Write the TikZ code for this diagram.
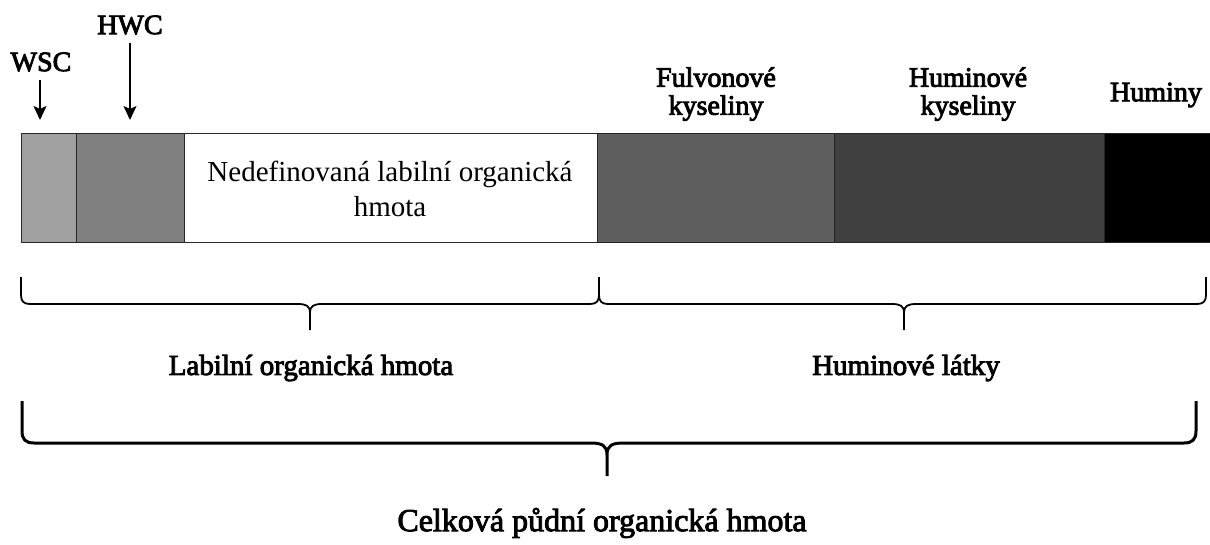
\documentclass[tikz,border=0pt]{standalone}
\usepackage{fontspec}
\setmainfont{Liberation Serif}
\newcommand{\heavy}[1]{\special{pdf:literal direct 2 Tr 0.9 w}#1\special{pdf:literal direct 0 Tr}}
\usetikzlibrary{arrows.meta}
\tikzset{
  seg/.style={draw=black!85, line width=1.4pt, inner sep=0pt, anchor=north west, minimum height=109pt},
  toplab/.style={font=\fontsize{28}{28}\selectfont, align=center, inner sep=0pt},
  botlab/.style={font=\fontsize{29}{30}\selectfont, inner sep=0pt},
  biglab/.style={font=\fontsize{32}{34}\selectfont, inner sep=0pt},
  midtext/.style={font=\fontsize{29}{35}\selectfont, align=center, inner sep=0pt},
  ptr/.style={line width=1.5pt, -{Stealth[width=13pt,length=14pt,inset=3pt]}},
  brc/.style={line width=1.8pt, line join=round},
  bigbrc/.style={line width=3pt, line join=round},
}
% #1 left x, #2 right x, #3 mid x, #4 top y, #5 horizontal y, #6 tip y, #7 corner radius
\newcommand{\mybrace}[7]{%
  (#1,#4) -- (#1,#5-#7) .. controls (#1,#5-#7*0.3) and (#1+#7*0.3,#5) .. (#1+#7,#5)
  -- (#3-#7*1.4,#5) .. controls (#3-#7*0.4,#5) and (#3,#5+#7*0.2) .. (#3,#5+#7)
  -- (#3,#6)
  (#3,#5+#7) .. controls (#3,#5+#7*0.2) and (#3+#7*0.4,#5) .. (#3+#7*1.4,#5)
  -- (#2-#7,#5) .. controls (#2-#7*0.3,#5) and (#2,#5-#7*0.3) .. (#2,#5-#7) -- (#2,#4)}
\begin{document}
\begin{tikzpicture}[x=1pt,y=-1pt]
\useasboundingbox (0,0) rectangle (1210,544);
% bar segments
\node[seg, fill=black!37, minimum width=55pt] (wscbox) at (21,133) {};
\node[seg, fill=black!50, minimum width=108pt] (hwcbox) at (76,133) {};
\node[seg, fill=white, minimum width=413pt] (undef) at (184,133) {};
\node[seg, fill=black!63, minimum width=237pt] (fulvo) at (597,133) {};
\node[seg, fill=black!75, minimum width=270pt] (humac) at (834,133) {};
\node[seg, fill=black, minimum width=110pt] (humin) at (1104,133) {};
\node[midtext] (undeftxt) at (390,189) {Nedefinovaná labilní organická\\hmota};
% top labels
\node[toplab] (wsc) at (41,62) {\heavy{WSC}};
\node[toplab] (hwc) at (130,25) {\heavy{HWC}};
\coordinate (wsctip) at (40,120);
\coordinate (hwctip) at (130,120);
\draw[ptr] (wsctip |- wsc.south) ++(0,8) -- (wsctip);
\draw[ptr] (hwctip |- hwc.south) ++(0,8) -- (hwctip);
\node[toplab] (fulvotxt) at (716,94) {\heavy{Fulvonové}\\\heavy{kyseliny}};
\node[toplab] (humactxt) at (968,94) {\heavy{Huminové}\\\heavy{kyseliny}};
\node[toplab] (humintxt) at (1156,95) {\heavy{Huminy}};
% braces
\draw[brc] \mybrace{21}{599}{310}{277}{304}{330}{9};
\draw[brc] \mybrace{599}{1206}{904}{277}{304}{330}{9};
\draw[bigbrc] \mybrace{22}{1196}{607}{401}{443}{476}{12};
% bottom labels
\node[botlab] (labil) at (311,368) {\heavy{Labilní organická hmota}};
\node[botlab] (humlat) at (906,368) {\heavy{Huminové látky}};
\node[biglab] (total) at (602,523) {\heavy{Celková půdní organická hmota}};
\end{tikzpicture}
\end{document}
